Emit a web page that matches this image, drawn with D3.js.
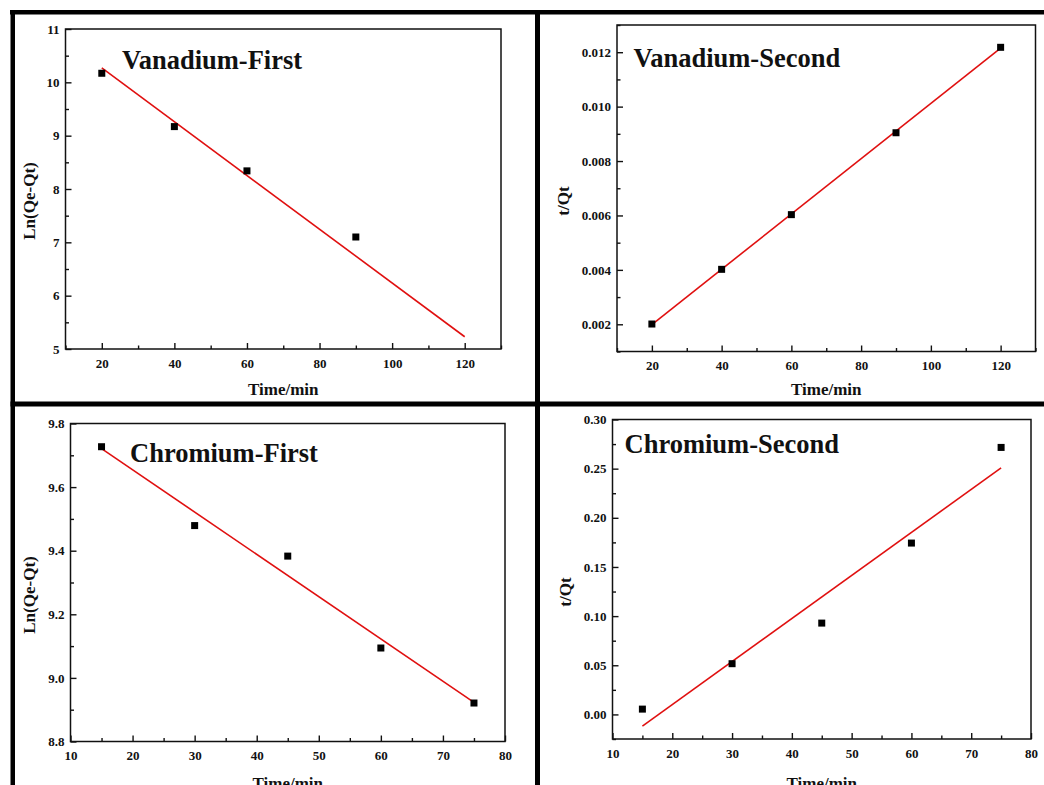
<!DOCTYPE html>
<html>
<head>
<meta charset="utf-8">
<script src="https://cdn.jsdelivr.net/npm/d3@7"></script>
<style>
  body { margin: 0; background: #fff; }
  svg { display: block; }
  text { font-family: "Liberation Serif", "Times New Roman", serif; font-weight: bold; fill: #111; }
</style>
</head>
<body>
<svg id="fig" width="1044" height="785"></svg>
<script>
// Vanadium, pseudo-first-order: Ln(Qe-Qt) vs time
const vanFirstTime = [20, 40, 60, 90];
const vanFirstLn = [10.17, 9.17, 8.34, 7.10];
const vanFirstFitTime = [20, 120];
const vanFirstFitLn = [10.27, 5.23];

// Vanadium, pseudo-second-order: t/Qt vs time
const vanSecondTime = [20, 40, 60, 90, 120];
const vanSecondTQ = [0.00201, 0.00402, 0.00603, 0.00904, 0.01218];
const vanSecondFitTime = [20, 120];
const vanSecondFitTQ = [0.00199, 0.01215];

// Chromium, pseudo-first-order
const chrFirstTime = [15, 30, 45, 60, 75];
const chrFirstLn = [9.727, 9.479, 9.383, 9.094, 8.921];
const chrFirstFitTime = [15, 75];
const chrFirstFitLn = [9.721, 8.923];

// Chromium, pseudo-second-order
const chrSecondTime = [15, 30, 45, 60, 75];
const chrSecondTQ = [0.0054, 0.0516, 0.0929, 0.1743, 0.2716];
const chrSecondFitTime = [15, 75];
const chrSecondFitTQ = [-0.0119, 0.2508];

// Tick labels
const vanTimeTicks = [20, 40, 60, 80, 100, 120];
const chrTimeTicks = [10, 20, 30, 40, 50, 60, 70, 80];
const vanFirstTicks = [5, 6, 7, 8, 9, 10, 11];
const vanSecondTicks = [0.002, 0.004, 0.006, 0.008, 0.010, 0.012];
const chrFirstTicks = [8.8, 9.0, 9.2, 9.4, 9.6, 9.8];
const chrSecondTicks = [0.00, 0.05, 0.10, 0.15, 0.20, 0.25, 0.30];

const svg = d3.select("#fig");

// Outer frame and dividers
const frame = svg.append("g").attr("fill", "#000");
frame.append("rect").attr("x", 10).attr("y", 10).attr("width", 1034).attr("height", 4.5);
frame.append("rect").attr("x", 10.5).attr("y", 10).attr("width", 4.5).attr("height", 775);
frame.append("rect").attr("x", 535).attr("y", 10).attr("width", 5).attr("height", 775);
frame.append("rect").attr("x", 10.5).attr("y", 401.5).attr("width", 1033.5).attr("height", 5);

const panels = [
  {
    title: "Vanadium-First", yLabel: "Ln(Qe-Qt)",
    box: [65.5, 29, 501, 349], titlePos: [122, 68.5], yLabelPos: [29, 201], xLabelY: 395,
    xDomain: [10, 130], yDomain: [5, 11],
    xTicks: vanTimeTicks, xMinor: 10, yTicks: vanFirstTicks, yMinor: 0.5, yFmt: d3.format("d"),
    px: vanFirstTime, py: vanFirstLn, fx: vanFirstFitTime, fy: vanFirstFitLn
  },
  {
    title: "Vanadium-Second", yLabel: "t/Qt",
    box: [617, 25, 1035.5, 351.5], titlePos: [633.5, 67], yLabelPos: [563.5, 201], xLabelY: 395,
    xDomain: [10, 130], yDomain: [0.001, 0.013],
    xTicks: vanTimeTicks, xMinor: 10, yTicks: vanSecondTicks, yMinor: 0.001, yFmt: d3.format(".3f"),
    px: vanSecondTime, py: vanSecondTQ, fx: vanSecondFitTime, fy: vanSecondFitTQ
  },
  {
    title: "Chromium-First", yLabel: "Ln(Qe-Qt)",
    box: [70.5, 423.5, 505, 741.5], titlePos: [130, 461.5], yLabelPos: [29.3, 595], xLabelY: 789,
    xDomain: [10, 80], yDomain: [8.8, 9.8],
    xTicks: chrTimeTicks, xMinor: 5, yTicks: chrFirstTicks, yMinor: 0.1, yFmt: d3.format(".1f"),
    px: chrFirstTime, py: chrFirstLn, fx: chrFirstFitTime, fy: chrFirstFitLn
  },
  {
    title: "Chromium-Second", yLabel: "t/Qt",
    box: [612.5, 419.5, 1031, 739], titlePos: [624.5, 453], yLabelPos: [565, 592], xLabelY: 789,
    xDomain: [10, 80], yDomain: [-0.025, 0.30],
    xTicks: chrTimeTicks, xMinor: 5, yTicks: chrSecondTicks, yMinor: 0.025, yFmt: d3.format(".2f"),
    px: chrSecondTime, py: chrSecondTQ, fx: chrSecondFitTime, fy: chrSecondFitTQ
  }
];

function minorTicks(domain, step, majors) {
  const lo = Math.min(domain[0], domain[1]), hi = Math.max(domain[0], domain[1]);
  const start = Math.ceil((lo - 1e-9) / step) * step;
  const out = [];
  for (let v = start; v <= hi + 1e-9; v += step) {
    const r = Math.round(v / step) * step;
    if (!majors.some(m => Math.abs(m - r) < step * 1e-3)) out.push(r);
  }
  return out;
}

panels.forEach(p => {
  const [l, t, r, b] = p.box;
  const x = d3.scaleLinear().domain(p.xDomain).range([l, r]);
  const y = d3.scaleLinear().domain(p.yDomain).range([b, t]);
  const g = svg.append("g");

  // Major and minor ticks point into the plot
  const xAxis = g.append("g").attr("transform", `translate(0,${b})`)
    .call(d3.axisBottom(x).tickValues(p.xTicks).tickSizeInner(-6).tickSizeOuter(0).tickPadding(9.3));
  g.append("g").attr("transform", `translate(0,${b})`)
    .call(d3.axisBottom(x).tickValues(minorTicks(p.xDomain, p.xMinor, p.xTicks)).tickSizeInner(-3.5).tickSizeOuter(0).tickFormat(""));
  const yAxis = g.append("g").attr("transform", `translate(${l},0)`)
    .call(d3.axisLeft(y).tickValues(p.yTicks).tickFormat(p.yFmt).tickSizeInner(-6).tickSizeOuter(0).tickPadding(6));
  g.append("g").attr("transform", `translate(${l},0)`)
    .call(d3.axisLeft(y).tickValues(minorTicks(p.yDomain, p.yMinor, p.yTicks)).tickSizeInner(-3.5).tickSizeOuter(0).tickFormat(""));

  g.selectAll(".domain").remove();
  g.selectAll(".tick line").attr("stroke", "#111").attr("stroke-width", 1.4);
  g.selectAll(".tick text").attr("font-size", 13).attr("fill", "#111")
    .attr("font-family", "'Liberation Serif', 'Times New Roman', serif").attr("font-weight", "bold");

  // Plot frame
  g.append("rect").attr("x", l).attr("y", t).attr("width", r - l).attr("height", b - t)
    .attr("fill", "none").attr("stroke", "#111").attr("stroke-width", 1.5);

  // Fitted line
  const fit = p.fx.map((v, i) => [v, p.fy[i]]);
  g.append("path").datum(fit)
    .attr("d", d3.line().x(d => x(d[0])).y(d => y(d[1])))
    .attr("fill", "none").attr("stroke", "#e01010").attr("stroke-width", 1.6);

  // Measured points
  const pts = p.px.map((v, i) => [v, p.py[i]]);
  g.selectAll("rect.pt").data(pts).join("rect").attr("class", "pt")
    .attr("x", d => x(d[0]) - 3.5).attr("y", d => y(d[1]) - 3.5)
    .attr("width", 7).attr("height", 7).attr("fill", "#000");

  // Titles and axis labels
  g.append("text").attr("x", p.titlePos[0]).attr("y", p.titlePos[1])
    .attr("font-size", 26.5).text(p.title);
  g.append("text").attr("x", (l + r) / 2).attr("y", p.xLabelY)
    .attr("text-anchor", "middle").attr("font-size", 17).text("Time/min");
  g.append("text")
    .attr("transform", `translate(${p.yLabelPos[0]},${p.yLabelPos[1]}) rotate(-90)`)
    .attr("text-anchor", "middle").attr("dy", "0.35em").attr("font-size", 17).text(p.yLabel);
});
</script>
</body>
</html>
